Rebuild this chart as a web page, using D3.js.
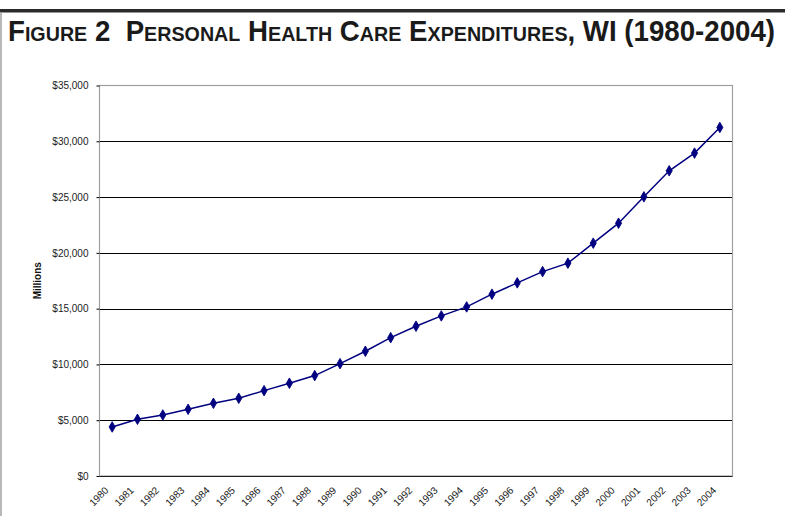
<!DOCTYPE html>
<html><head><meta charset="utf-8">
<script src="https://cdn.jsdelivr.net/npm/d3@7"></script>
<style>
html,body{margin:0;padding:0;background:#fff;}
svg{display:block;}
</style></head>
<body>
<svg id="chart" width="785" height="516"></svg>
<script>
const titleText = "Figure 2  Personal Health Care Expenditures, WI (1980-2004)";
const yAxisTitle = "Millions";
const years = ["1980","1981","1982","1983","1984","1985","1986","1987","1988","1989","1990","1991","1992","1993","1994","1995","1996","1997","1998","1999","2000","2001","2002","2003","2004"];
const spending = [4395,5085,5470,5980,6520,6970,7650,8315,9000,10070,11180,12400,13425,14350,15155,16295,17310,18320,19075,20870,22660,25020,27355,28940,31240];
const yTicks = [0,5000,10000,15000,20000,25000,30000,35000];

const svg = d3.select("#chart");
const W = 785, H = 516;
const plot = {left: 99.5, right: 732.5, top: 85.5, bottom: 476};

// outer frame
svg.append("rect").attr("x",0).attr("y",9).attr("width",W).attr("height",3.5).attr("fill","#2b2b2b");
svg.append("line").attr("x1",1).attr("x2",1).attr("y1",12).attr("y2",H).attr("stroke","#a0a0a0").attr("stroke-width",1.5);

// title
svg.append("text")
  .attr("transform","translate(8,41) scale(1,1.08)")
  .attr("x",0).attr("y",0)
  .attr("textLength",767).attr("lengthAdjust","spacingAndGlyphs")
  .style("white-space","pre")
  .style("font-family","'Liberation Sans',Arial,sans-serif")
  .style("font-weight","bold").style("font-size","27px")
  .style("font-variant","small-caps")
  .attr("fill","#1a1a1a")
  .text(titleText);

const x = d3.scaleBand().domain(years).range([plot.left, plot.right]).padding(0);
const y = d3.scaleLinear().domain([0,35000]).range([plot.bottom, plot.top]);

// gridlines
svg.append("g").selectAll("line").data(yTicks.filter(d=>d>0 && d<35000)).join("line")
  .attr("x1",plot.left).attr("x2",plot.right)
  .attr("y1",d=>Math.round(y(d))+0.5).attr("y2",d=>Math.round(y(d))+0.5)
  .attr("stroke","#000").attr("stroke-width",1);

// plot border (gray)
svg.append("rect").attr("x",plot.left).attr("y",plot.top)
  .attr("width",plot.right-plot.left).attr("height",plot.bottom-plot.top)
  .attr("fill","none").attr("stroke","#a0a0a0").attr("stroke-width",1.2);
// bottom axis line
svg.append("line").attr("x1",plot.left).attr("x2",plot.right)
  .attr("y1",plot.bottom+0.5).attr("y2",plot.bottom+0.5)
  .attr("stroke","#222").attr("stroke-width",1.2);

// y axis
const yAxis = d3.axisLeft(y).tickValues(yTicks).tickSize(3).tickPadding(8)
  .tickFormat(d=>"$"+d3.format(",")(d));
const gy = svg.append("g").attr("transform",`translate(${plot.left},0)`).call(yAxis);
gy.select(".domain").remove();
gy.selectAll(".tick line").attr("stroke","#000");
gy.selectAll("text").style("font-family","'Liberation Sans',Arial,sans-serif").style("font-size","10px").attr("fill","#222");

// x axis labels
const xAxis = d3.axisBottom(x).tickSize(0).tickPadding(0);
const gx = svg.append("g").attr("transform",`translate(0,${plot.bottom})`).call(xAxis);
gx.select(".domain").remove();
gx.selectAll("text")
  .style("font-family","'Liberation Sans',Arial,sans-serif").style("font-size","10px").attr("fill","#222")
  .attr("text-anchor","end").attr("dy",null).attr("y",0)
  .attr("transform","translate(-3,15) rotate(-45)");

// y axis title
svg.append("text")
  .attr("transform",`translate(41,${(plot.top+plot.bottom)/2}) rotate(-90)`)
  .attr("text-anchor","middle")
  .style("font-family","'Liberation Sans',Arial,sans-serif").style("font-size","10px").style("font-weight","bold")
  .attr("fill","#111").text(yAxisTitle);

// line
const cx = d => x(d) + x.bandwidth()/2;
const line = d3.line().x((d,i)=>cx(years[i])).y(d=>y(d));
svg.append("path").datum(spending).attr("d",line)
  .attr("fill","none").attr("stroke","#000080").attr("stroke-width",1.5);

// diamond markers
svg.append("g").selectAll("path").data(spending).join("path")
  .attr("d",d3.symbol().type(d3.symbolDiamond).size(32))
  .attr("transform",(d,i)=>`translate(${cx(years[i])},${y(d)})`)
  .attr("fill","#000080").attr("stroke","#000080").attr("stroke-width",0.9);
</script>
</body></html>
